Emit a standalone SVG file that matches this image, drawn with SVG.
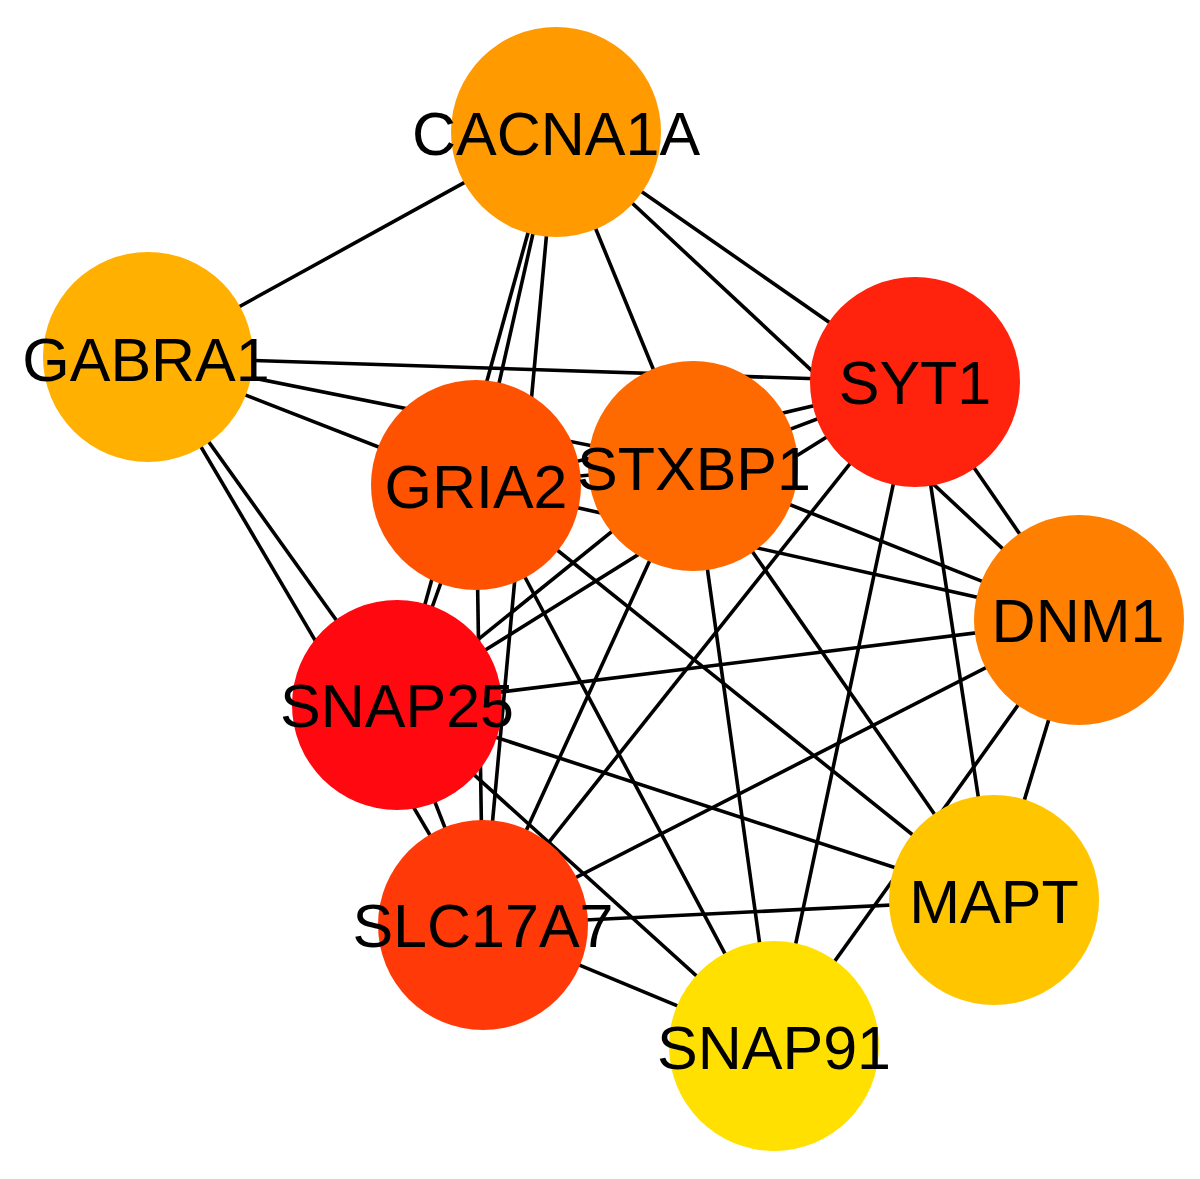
<svg xmlns="http://www.w3.org/2000/svg" width="1200" height="1179" viewBox="0 0 1200 1179">
<style>
.e{stroke:#000;stroke-width:3.6;fill:none}
.n{stroke:none}
.t{font-family:"Liberation Sans",Arial,sans-serif;font-size:61px;fill:#000;text-anchor:middle}
</style>
<rect width="1200" height="1179" fill="#fff"/>
<g id="edges">
<line class="e" x1="556" y1="132" x2="148" y2="357"/>
<line class="e" x1="556" y1="132" x2="915" y2="382"/>
<line class="e" x1="556" y1="132" x2="1079" y2="620"/>
<line class="e" x1="556" y1="132" x2="693" y2="466"/>
<line class="e" x1="556" y1="132" x2="476" y2="485"/>
<line class="e" x1="556" y1="132" x2="397" y2="705"/>
<line class="e" x1="556" y1="132" x2="483" y2="925"/>
<line class="e" x1="148" y1="357" x2="915" y2="382"/>
<line class="e" x1="148" y1="357" x2="693" y2="466"/>
<line class="e" x1="148" y1="357" x2="476" y2="485"/>
<line class="e" x1="148" y1="357" x2="397" y2="705"/>
<line class="e" x1="148" y1="357" x2="483" y2="925"/>
<line class="e" x1="915" y1="382" x2="693" y2="466"/>
<line class="e" x1="915" y1="382" x2="476" y2="485"/>
<line class="e" x1="915" y1="382" x2="397" y2="705"/>
<line class="e" x1="915" y1="382" x2="483" y2="925"/>
<line class="e" x1="915" y1="382" x2="774" y2="1046"/>
<line class="e" x1="915" y1="382" x2="994" y2="900"/>
<line class="e" x1="915" y1="382" x2="1079" y2="620"/>
<line class="e" x1="693" y1="466" x2="1079" y2="620"/>
<line class="e" x1="693" y1="466" x2="994" y2="900"/>
<line class="e" x1="693" y1="466" x2="774" y2="1046"/>
<line class="e" x1="693" y1="466" x2="483" y2="925"/>
<line class="e" x1="693" y1="466" x2="397" y2="705"/>
<line class="e" x1="693" y1="466" x2="476" y2="485"/>
<line class="e" x1="476" y1="485" x2="1079" y2="620"/>
<line class="e" x1="476" y1="485" x2="994" y2="900"/>
<line class="e" x1="476" y1="485" x2="774" y2="1046"/>
<line class="e" x1="476" y1="485" x2="397" y2="705"/>
<line class="e" x1="476" y1="485" x2="483" y2="925"/>
<line class="e" x1="397" y1="705" x2="1079" y2="620"/>
<line class="e" x1="397" y1="705" x2="994" y2="900"/>
<line class="e" x1="397" y1="705" x2="774" y2="1046"/>
<line class="e" x1="397" y1="705" x2="483" y2="925"/>
<line class="e" x1="483" y1="925" x2="1079" y2="620"/>
<line class="e" x1="483" y1="925" x2="994" y2="900"/>
<line class="e" x1="483" y1="925" x2="774" y2="1046"/>
<line class="e" x1="1079" y1="620" x2="994" y2="900"/>
<line class="e" x1="1079" y1="620" x2="774" y2="1046"/>
</g>
<g id="node-CACNA1A"><circle class="n" cx="556" cy="132" r="105" fill="#FF9A00"/><text class="t" x="556" y="155">CACNA1A</text></g>
<g id="node-GABRA1"><circle class="n" cx="148" cy="357" r="105" fill="#FFB000"/><text class="t" x="146" y="381">GABRA1</text></g>
<g id="node-SYT1"><circle class="n" cx="915" cy="382" r="105" fill="#FF230E"/><text class="t" x="915" y="404">SYT1</text></g>
<g id="node-GRIA2"><circle class="n" cx="476" cy="485" r="105" fill="#FF5200"/><text class="t" x="476" y="508">GRIA2</text></g>
<g id="node-STXBP1"><circle class="n" cx="693" cy="466" r="105" fill="#FF6A00"/><text class="t" x="694" y="490">STXBP1</text></g>
<g id="node-DNM1"><circle class="n" cx="1079" cy="620" r="105" fill="#FF8000"/><text class="t" x="1078" y="642">DNM1</text></g>
<g id="node-SNAP25"><circle class="n" cx="397" cy="705" r="105" fill="#FF0810"/><text class="t" x="397" y="727">SNAP25</text></g>
<g id="node-MAPT"><circle class="n" cx="994" cy="900" r="105" fill="#FFC600"/><text class="t" x="994" y="923">MAPT</text></g>
<g id="node-SLC17A7"><circle class="n" cx="483" cy="925" r="105" fill="#FF3A08"/><text class="t" x="483" y="947">SLC17A7</text></g>
<g id="node-SNAP91"><circle class="n" cx="774" cy="1046" r="105" fill="#FFE000"/><text class="t" x="774" y="1069">SNAP91</text></g>
</svg>
